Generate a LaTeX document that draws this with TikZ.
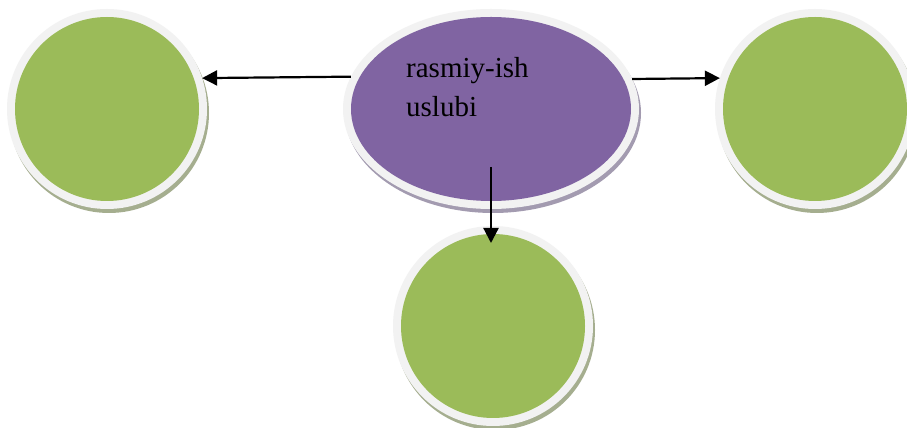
\documentclass[tikz,border=0pt]{standalone}
\usepackage{fontspec}
\setmainfont{Liberation Serif}
\usetikzlibrary{shadows,arrows.meta}
\definecolor{leaf}{HTML}{9BBB59}
\definecolor{plum}{HTML}{8064A2}
\definecolor{rim}{HTML}{F2F2F2}
\definecolor{leafshadow}{HTML}{A5AE8F}
\definecolor{plumshadow}{HTML}{A39BB0}
\usetikzlibrary{shapes.geometric}
\tikzset{
  rimcircle/.style={circle, minimum size=200pt, inner sep=0pt, outer sep=0pt, fill=rim,
    drop shadow={shadow xshift=2pt, shadow yshift=-4pt, fill=leafshadow, opacity=1}},
  greencircle/.style={circle, minimum size=184pt, inner sep=0pt, outer sep=0pt, fill=leaf},
  rimellipse/.style={ellipse, minimum width=296pt, minimum height=200pt, inner sep=0pt, outer sep=0pt, fill=rim,
    drop shadow={shadow xshift=2pt, shadow yshift=-4pt, fill=plumshadow, opacity=1}},
  purpleellipse/.style={ellipse, minimum width=280pt, minimum height=184pt, inner sep=0pt, outer sep=0pt, fill=plum},
  arr/.style={line width=2.2pt, -{Triangle[length=15pt,width=15pt]}},
  txt/.style={font=\fontsize{29}{39}\selectfont, align=left, inner sep=0pt, anchor=base west}
}
\begin{document}
\begin{tikzpicture}[x=1pt,y=1pt]
\useasboundingbox (0,0) rectangle (907,428);
\fill[white] (0,0) rectangle (907,428);
\clip (0,0) rectangle (907,428);
% left circle
\node[rimcircle] (l) at (107,319) {};
\node[greencircle] (li) at (l) {};
% right circle
\node[rimcircle] (r) at (815,319) {};
\node[greencircle] (ri) at (r) {};
% bottom circle
\node[rimcircle] (b) at (493,102) {};
\node[greencircle] (bi) at (b) {};
% centre ellipse
\node[rimellipse] (c) at (491,319) {};
\node[purpleellipse] (ci) at (c) {};
\node[txt] (t) at (406,311) {rasmiy-ish\\uslubi};
% connectors
\draw[arr] (c.167.6) -- (l.18.07);
\draw[arr] (c.12.3) -- (r.162.3);
\draw[arr] ([yshift=-58pt]c.center) -- ([yshift=-17pt]c.center |- b.north);
\end{tikzpicture}
\end{document}
